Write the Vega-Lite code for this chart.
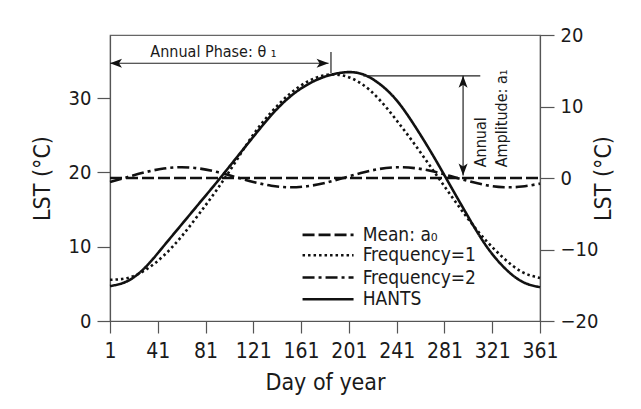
{
  "$schema": "https://vega.github.io/schema/vega-lite/v6.json",
  "width": 430,
  "height": 286,
  "autosize": "none",
  "padding": {"left": 110, "top": 35, "right": 101, "bottom": 88},
  "background": "white",
  "datasets": {
    "curves": [
      {"day": 1, "value": 5.55, "series": "Frequency=1"},
      {"day": 16, "value": 5.8, "series": "Frequency=1"},
      {"day": 31, "value": 6.9, "series": "Frequency=1"},
      {"day": 46, "value": 8.8, "series": "Frequency=1"},
      {"day": 61, "value": 11.4, "series": "Frequency=1"},
      {"day": 76, "value": 14.5, "series": "Frequency=1"},
      {"day": 91, "value": 17.8, "series": "Frequency=1"},
      {"day": 106, "value": 21.4, "series": "Frequency=1"},
      {"day": 121, "value": 25.1, "series": "Frequency=1"},
      {"day": 136, "value": 28.1, "series": "Frequency=1"},
      {"day": 151, "value": 30.5, "series": "Frequency=1"},
      {"day": 166, "value": 32.2, "series": "Frequency=1"},
      {"day": 181, "value": 33.1, "series": "Frequency=1"},
      {"day": 196, "value": 33.05, "series": "Frequency=1"},
      {"day": 211, "value": 32.0, "series": "Frequency=1"},
      {"day": 226, "value": 29.9, "series": "Frequency=1"},
      {"day": 241, "value": 27.0, "series": "Frequency=1"},
      {"day": 256, "value": 23.8, "series": "Frequency=1"},
      {"day": 271, "value": 20.4, "series": "Frequency=1"},
      {"day": 286, "value": 17.0, "series": "Frequency=1"},
      {"day": 301, "value": 13.7, "series": "Frequency=1"},
      {"day": 316, "value": 10.8, "series": "Frequency=1"},
      {"day": 331, "value": 8.4, "series": "Frequency=1"},
      {"day": 346, "value": 6.6, "series": "Frequency=1"},
      {"day": 361, "value": 5.8, "series": "Frequency=1"},
      {"day": 1, "value": 18.72, "series": "Frequency=2"},
      {"day": 16, "value": 19.39, "series": "Frequency=2"},
      {"day": 31, "value": 20.05, "series": "Frequency=2"},
      {"day": 46, "value": 20.52, "series": "Frequency=2"},
      {"day": 61, "value": 20.7, "series": "Frequency=2"},
      {"day": 76, "value": 20.52, "series": "Frequency=2"},
      {"day": 91, "value": 20.05, "series": "Frequency=2"},
      {"day": 106, "value": 19.39, "series": "Frequency=2"},
      {"day": 121, "value": 18.72, "series": "Frequency=2"},
      {"day": 136, "value": 18.21, "series": "Frequency=2"},
      {"day": 151, "value": 18.0, "series": "Frequency=2"},
      {"day": 166, "value": 18.14, "series": "Frequency=2"},
      {"day": 181, "value": 18.58, "series": "Frequency=2"},
      {"day": 196, "value": 19.24, "series": "Frequency=2"},
      {"day": 211, "value": 19.92, "series": "Frequency=2"},
      {"day": 226, "value": 20.45, "series": "Frequency=2"},
      {"day": 241, "value": 20.69, "series": "Frequency=2"},
      {"day": 256, "value": 20.58, "series": "Frequency=2"},
      {"day": 271, "value": 20.16, "series": "Frequency=2"},
      {"day": 286, "value": 19.51, "series": "Frequency=2"},
      {"day": 301, "value": 18.84, "series": "Frequency=2"},
      {"day": 316, "value": 18.28, "series": "Frequency=2"},
      {"day": 331, "value": 18.01, "series": "Frequency=2"},
      {"day": 346, "value": 18.1, "series": "Frequency=2"},
      {"day": 361, "value": 18.49, "series": "Frequency=2"},
      {"day": 1, "value": 4.7, "series": "HANTS"},
      {"day": 16, "value": 5.4, "series": "HANTS"},
      {"day": 31, "value": 7.3, "series": "HANTS"},
      {"day": 46, "value": 10.1, "series": "HANTS"},
      {"day": 61, "value": 13.0, "series": "HANTS"},
      {"day": 76, "value": 15.9, "series": "HANTS"},
      {"day": 91, "value": 18.8, "series": "HANTS"},
      {"day": 106, "value": 21.8, "series": "HANTS"},
      {"day": 121, "value": 24.8, "series": "HANTS"},
      {"day": 136, "value": 27.7, "series": "HANTS"},
      {"day": 151, "value": 30.1, "series": "HANTS"},
      {"day": 166, "value": 31.8, "series": "HANTS"},
      {"day": 181, "value": 32.9, "series": "HANTS"},
      {"day": 196, "value": 33.45, "series": "HANTS"},
      {"day": 211, "value": 33.3, "series": "HANTS"},
      {"day": 226, "value": 32.0, "series": "HANTS"},
      {"day": 241, "value": 29.7, "series": "HANTS"},
      {"day": 256, "value": 26.3, "series": "HANTS"},
      {"day": 271, "value": 22.4, "series": "HANTS"},
      {"day": 286, "value": 18.2, "series": "HANTS"},
      {"day": 301, "value": 14.0, "series": "HANTS"},
      {"day": 316, "value": 10.1, "series": "HANTS"},
      {"day": 331, "value": 7.2, "series": "HANTS"},
      {"day": 346, "value": 5.3, "series": "HANTS"},
      {"day": 361, "value": 4.55, "series": "HANTS"}
    ],
    "mean": [
      {"day": 1, "value": 0, "series": "Mean: a₀"},
      {"day": 361, "value": 0, "series": "Mean: a₀"}
    ],
    "legendkeys": [
      {"day": 162.2, "value": 11.6, "series": "Mean: a₀"},
      {"day": 204.9, "value": 11.6, "series": "Mean: a₀"},
      {"day": 162.2, "value": 8.85, "series": "Frequency=1"},
      {"day": 204.9, "value": 8.85, "series": "Frequency=1"},
      {"day": 162.2, "value": 5.85, "series": "Frequency=2"},
      {"day": 204.9, "value": 5.85, "series": "Frequency=2"},
      {"day": 162.2, "value": 2.92, "series": "HANTS"},
      {"day": 204.9, "value": 2.92, "series": "HANTS"}
    ],
    "legendlabels": [
      {"day": 212.5, "value": 11.6, "label": "Mean: a₀"},
      {"day": 212.5, "value": 8.85, "label": "Frequency=1"},
      {"day": 212.5, "value": 5.85, "label": "Frequency=2"},
      {"day": 212.5, "value": 2.92, "label": "HANTS"}
    ],
    "guides": [
      {"day": 1, "day2": 184, "value": 34.7, "value2": 34.7},
      {"day": 186, "day2": 186, "value": 33.4, "value2": 36.2},
      {"day": 213, "day2": 311, "value": 33.0, "value2": 33.0},
      {"day": 296.6, "day2": 296.6, "value": 19.6, "value2": 33.0}
    ],
    "heads": [
      {"day": 1, "value": 34.7, "dir": "left"},
      {"day": 184, "value": 34.7, "dir": "right"},
      {"day": 296.6, "value": 33.0, "dir": "up"},
      {"day": 296.6, "value": 19.6, "dir": "down"}
    ],
    "labels": [
      {"day": 87.6, "value": 35.6, "label": "Annual Phase: θ ₁"}
    ],
    "vlabels": [
      {"day": 312, "value": 20.7, "label": "Annual"},
      {"day": 329, "value": 20.7, "label": "Amplitude: a₁"}
    ]
  },
  "layer": [
    {
      "layer": [
        {
          "data": {"name": "curves"},
          "mark": {"type": "line", "interpolate": "natural", "color": "#111", "strokeCap": "butt"},
          "encoding": {
            "x": {"field": "day", "type": "quantitative", "scale": {"domain": [1, 361], "nice": false},
              "axis": {"values": [1, 41, 81, 121, 161, 201, 241, 281, 321, 361], "title": "Day of year", "tickSize": 12, "labelPadding": 7, "titlePadding": 10, "labelOverlap": false, "labelFlush": false, "labelFontSize": 21}},
            "y": {"field": "value", "type": "quantitative", "scale": {"domain": [0, 38.5], "nice": false, "zero": false},
              "axis": {"values": [0, 10, 20, 30], "title": "LST (°C)", "tickSize": 13, "labelPadding": 6, "titlePadding": 14}},
            "strokeDash": {"field": "series", "type": "nominal",
              "scale": {"domain": ["Mean: a₀", "Frequency=1", "Frequency=2", "HANTS"], "range": [[12, 4], [2.5, 3], [12, 4, 3, 4], [1, 0]]},
              "legend": null},
            "strokeWidth": {"field": "series", "type": "nominal",
              "scale": {"domain": ["Mean: a₀", "Frequency=1", "Frequency=2", "HANTS"], "range": [2.6, 2.6, 2.6, 5]},
              "legend": null}
          }
        },
        {
          "data": {"name": "legendkeys"},
          "mark": {"type": "line", "color": "#111", "strokeCap": "butt"},
          "encoding": {
            "x": {"field": "day", "type": "quantitative"},
            "y": {"field": "value", "type": "quantitative"},
            "detail": {"field": "series"},
            "strokeDash": {"field": "series", "type": "nominal", "legend": null},
            "strokeWidth": {"field": "series", "type": "nominal", "legend": null}
          }
        },
        {
          "data": {"name": "legendlabels"},
          "mark": {"type": "text", "align": "left", "baseline": "middle", "fontSize": 19, "color": "#1a1a1a"},
          "encoding": {"x": {"field": "day", "type": "quantitative"}, "y": {"field": "value", "type": "quantitative"}, "text": {"field": "label"}}
        },
        {
          "data": {"name": "guides"},
          "mark": {"type": "rule", "color": "#222", "strokeWidth": 1.2},
          "encoding": {
            "x": {"field": "day", "type": "quantitative"},
            "x2": {"field": "day2"},
            "y": {"field": "value", "type": "quantitative"},
            "y2": {"field": "value2"}
          }
        },
        {
          "data": {"name": "heads"},
          "transform": [{"filter": "datum.dir == 'right'"}],
          "mark": {"type": "point", "shape": "M0,0L-2,-0.75L-1.5,0L-2,0.75Z", "filled": true, "color": "#111", "size": 144, "opacity": 1, "angle": 0},
          "encoding": {"x": {"field": "day", "type": "quantitative"}, "y": {"field": "value", "type": "quantitative"}}
        },
        {
          "data": {"name": "heads"},
          "transform": [{"filter": "datum.dir == 'left'"}],
          "mark": {"type": "point", "shape": "M0,0L-2,-0.75L-1.5,0L-2,0.75Z", "filled": true, "color": "#111", "size": 144, "opacity": 1, "angle": 180},
          "encoding": {"x": {"field": "day", "type": "quantitative"}, "y": {"field": "value", "type": "quantitative"}}
        },
        {
          "data": {"name": "heads"},
          "transform": [{"filter": "datum.dir == 'up'"}],
          "mark": {"type": "point", "shape": "M0,0L-2,-0.75L-1.5,0L-2,0.75Z", "filled": true, "color": "#111", "size": 144, "opacity": 1, "angle": 270},
          "encoding": {"x": {"field": "day", "type": "quantitative"}, "y": {"field": "value", "type": "quantitative"}}
        },
        {
          "data": {"name": "heads"},
          "transform": [{"filter": "datum.dir == 'down'"}],
          "mark": {"type": "point", "shape": "M0,0L-2,-0.75L-1.5,0L-2,0.75Z", "filled": true, "color": "#111", "size": 144, "opacity": 1, "angle": 90},
          "encoding": {"x": {"field": "day", "type": "quantitative"}, "y": {"field": "value", "type": "quantitative"}}
        },
        {
          "data": {"name": "labels"},
          "mark": {"type": "text", "align": "center", "baseline": "alphabetic", "fontSize": 16, "color": "#1a1a1a"},
          "encoding": {"x": {"field": "day", "type": "quantitative"}, "y": {"field": "value", "type": "quantitative"}, "text": {"field": "label"}}
        },
        {
          "data": {"name": "vlabels"},
          "mark": {"type": "text", "align": "left", "baseline": "middle", "angle": 270, "fontSize": 16, "color": "#1a1a1a"},
          "encoding": {"x": {"field": "day", "type": "quantitative"}, "y": {"field": "value", "type": "quantitative"}, "text": {"field": "label"}}
        }
      ]
    },
    {
      "data": {"name": "mean"},
      "mark": {"type": "line", "color": "#111", "strokeCap": "butt"},
      "encoding": {
        "x": {"field": "day", "type": "quantitative"},
        "y": {"field": "value", "type": "quantitative", "scale": {"domain": [-20, 20], "nice": false},
          "axis": {"orient": "right", "values": [-20, -10, 0, 10, 20], "title": "LST (°C)", "titleAngle": 270, "tickSize": 14, "labelPadding": 6, "titlePadding": 18}},
        "strokeDash": {"field": "series", "type": "nominal", "legend": null},
        "strokeWidth": {"field": "series", "type": "nominal", "legend": null}
      }
    }
  ],
  "resolve": {"scale": {"y": "independent"}, "axis": {"y": "independent"}},
  "config": {
    "font": "'DejaVu Sans Condensed', Roboto, sans-serif",
    "text": {"font": "'DejaVu Sans Condensed', Roboto, sans-serif"},
    "view": {"stroke": "#666", "strokeWidth": 1.2},
    "axis": {"grid": false, "domainColor": "#555", "tickColor": "#555", "domainWidth": 1.2, "tickWidth": 1.2,
      "labelColor": "#1a1a1a", "titleColor": "#1a1a1a", "labelFontSize": 20, "titleFontSize": 23, "titleFontWeight": "normal",
      "labelFont": "'DejaVu Sans Condensed', Roboto, sans-serif", "titleFont": "'DejaVu Sans Condensed', Roboto, sans-serif"}
  }
}
